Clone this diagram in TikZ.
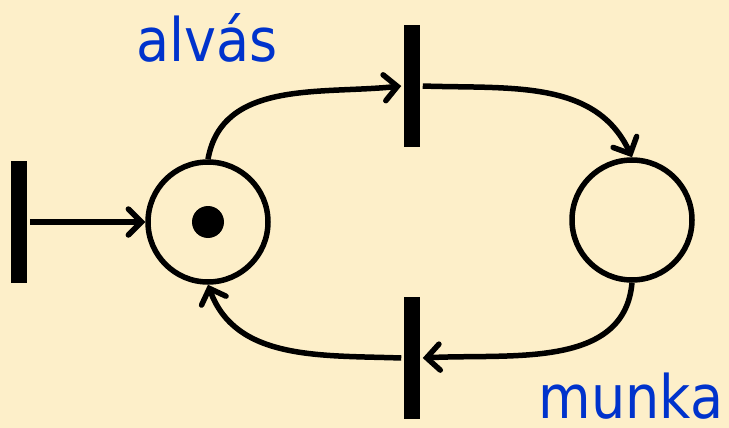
\documentclass[tikz,border=0pt]{standalone}
\usepackage{fontspec}
\setmainfont{DejaVu Sans Condensed}
\usetikzlibrary{arrows.meta}
\definecolor{bgcream}{HTML}{FDEFC9}
\definecolor{labelblue}{HTML}{0033CC}
\begin{document}
\begin{tikzpicture}[x=1pt,y=-1pt,>={Straight Barb[length=13pt,width=26pt,line cap=round]},line width=5.5pt]
      \tikzset{place/.style={draw, circle, minimum size=120pt, inner sep=0pt},
               trans/.style={fill=black, minimum width=16pt, minimum height=122pt, inner sep=0pt},
               lbl/.style={text=labelblue, font=\fontsize{60}{70}\selectfont, inner sep=0pt}}
      \fill[bgcream] (0,0) rectangle (729,428);
      \useasboundingbox (0,0) rectangle (729,428);
      \node[trans] (tin) at (19,222) {};
      \node[trans] (tsleep) at (412,86) {};
      \node[trans] (twork) at (412,358) {};
      \node[place] (psleep) at (208,222) {};
      \node[place] (pwork) at (632,220) {};
      \fill (psleep.center) circle (16pt);
      \node[lbl, anchor=base] (alvas) at (207,62) {alvás};
      \node[lbl, anchor=base] (munka) at (631,418) {munka};
      \draw[->] (tin.east) -- (psleep.west);
      \draw[->] (psleep.north) to[out=80,in=186] (tsleep.west);
      \draw[->] (tsleep.east) to[out=-2,in=115] (pwork.north);
      \draw[->] (pwork.south) to[out=-95,in=3] (twork.east);
      \draw[->] (twork.west) to[out=178,in=-70] (psleep.south);
\end{tikzpicture}
\end{document}
